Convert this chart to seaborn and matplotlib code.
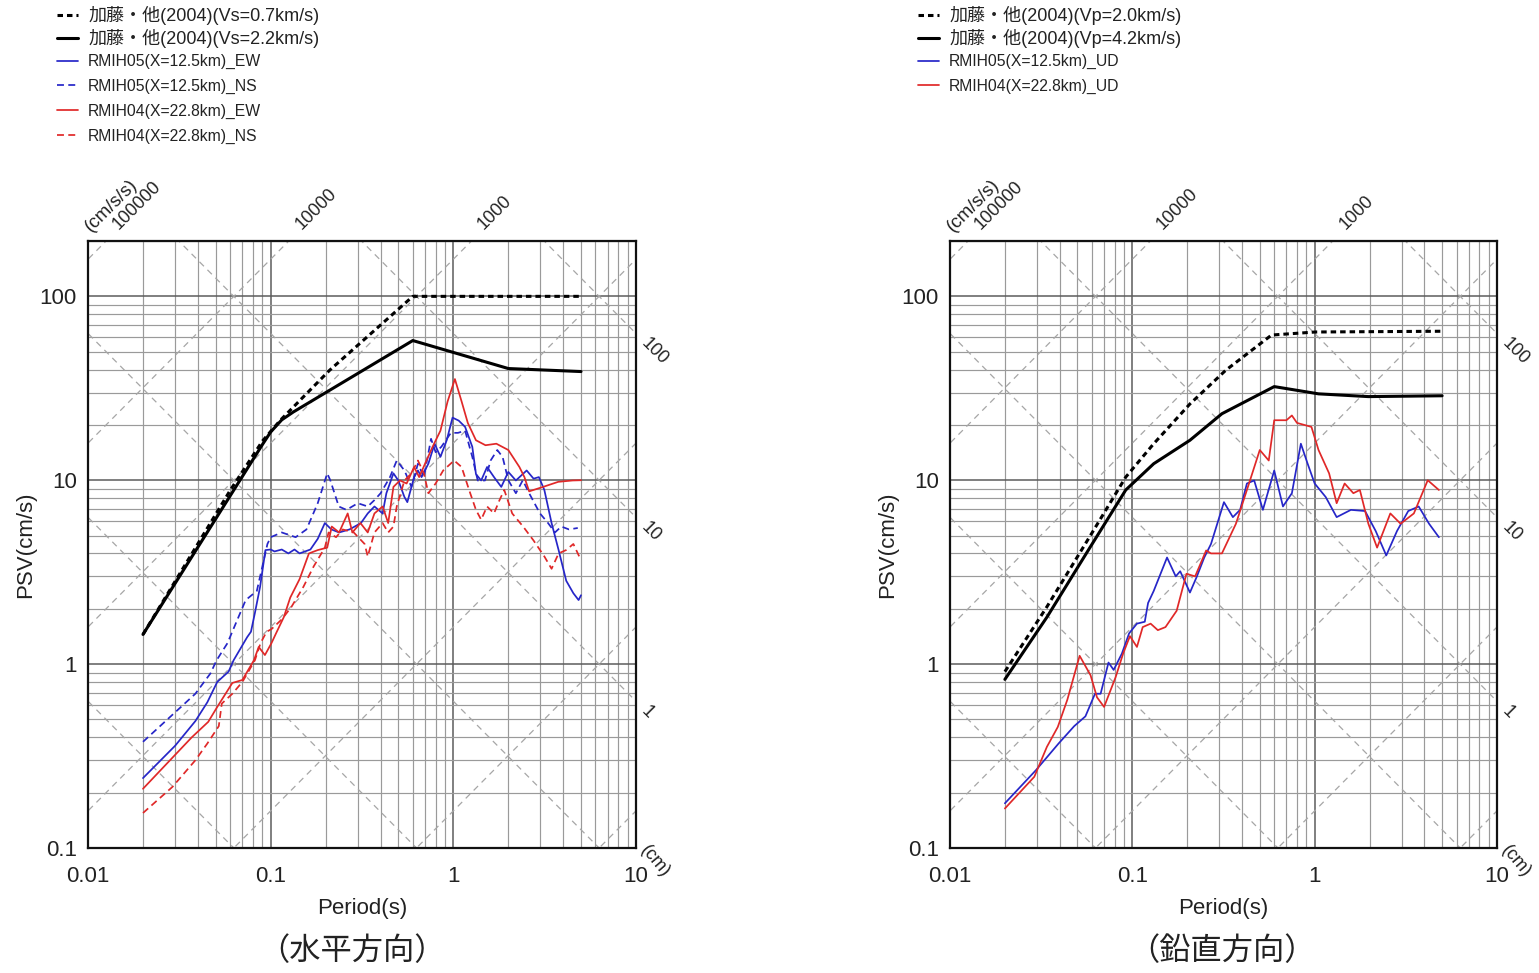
import numpy as np
import seaborn as sns
import matplotlib.pyplot as plt
from matplotlib.ticker import LogLocator, NullFormatter

# --- horizontal (水平方向) ---
kato_vs07_t = [0.02, 0.06, 0.09, 0.113, 0.17, 0.21, 0.6, 5.0]
kato_vs07_psv = [1.45, 8.8, 16.3, 21.2, 32.0, 39.6, 100, 100]

kato_vs22_t = [0.02, 0.09, 0.1, 0.115, 0.133, 0.6, 2.0, 5.0]
kato_vs22_psv = [1.45, 15.6, 18.3, 21.3, 23.5, 57.5, 40.5, 39.0]

rmih05_ew_t = [0.02, 0.03, 0.0387, 0.045, 0.051, 0.0588, 0.0627, 0.0743, 0.078, 0.082,
               0.0875, 0.0936, 0.1, 0.105, 0.115, 0.125, 0.135, 0.144, 0.165, 0.181,
               0.198, 0.215, 0.237, 0.27, 0.312, 0.34, 0.37, 0.41, 0.43, 0.47,
               0.50, 0.54, 0.56, 0.61, 0.64, 0.67, 0.73, 0.79, 0.85, 0.92,
               0.99, 1.07, 1.16, 1.27, 1.33, 1.42, 1.53, 1.67, 1.83, 2.0,
               2.2, 2.52, 2.75, 2.94, 3.15, 3.45, 3.77, 4.15, 4.54, 4.85, 5.0]
rmih05_ew_psv = [0.24, 0.36, 0.49, 0.62, 0.8, 0.91, 1.05, 1.4, 1.5, 1.9,
                 2.63, 4.17, 4.2, 4.1, 4.2, 4.0, 4.2, 4.0, 4.2, 4.8,
                 5.85, 5.4, 5.2, 5.4, 5.85, 6.6, 7.2, 6.6, 8.5, 10.9,
                 9.97, 8.1, 7.6, 10.4, 11.3, 10.4, 12.3, 15.8, 13.4, 16.5,
                 21.9, 21.1, 19.5, 15.2, 10.8, 9.97, 11.8, 10.4, 9.2, 11.1,
                 9.97, 11.3, 10.2, 10.4, 8.85, 5.85, 4.17, 2.84, 2.43, 2.23, 2.37]

rmih05_ns_t = [0.02, 0.0387, 0.0468, 0.0506, 0.058, 0.065, 0.073, 0.084, 0.096, 0.1,
               0.115, 0.137, 0.157, 0.181, 0.204, 0.212, 0.236, 0.26, 0.3, 0.34,
               0.37, 0.40, 0.45, 0.49, 0.54, 0.59, 0.64, 0.69, 0.755, 0.8,
               0.86, 0.97, 1.06, 1.16, 1.27, 1.36, 1.49, 1.6, 1.74, 1.86,
               2.0, 2.2, 2.4, 2.6, 2.98, 3.3, 3.6, 3.9, 4.3, 4.8]
rmih05_ns_psv = [0.378, 0.69, 0.89, 1.05, 1.3, 1.7, 2.23, 2.5, 4.5, 4.9,
                 5.2, 4.9, 5.4, 7.5, 10.9, 10.0, 7.2, 6.9, 7.5, 7.2,
                 7.8, 8.5, 10.4, 12.8, 11.3, 9.2, 12.3, 10.4, 16.8, 14.2,
                 15.2, 18.1, 18.1, 18.6, 13.4, 9.97, 9.97, 12.8, 14.6, 13.4,
                 10.0, 8.5, 10.0, 8.5, 6.6, 5.85, 5.2, 5.6, 5.4, 5.5]

rmih04_ew_t = [0.02, 0.037, 0.0455, 0.051, 0.0617, 0.07, 0.081, 0.086, 0.093, 0.101,
               0.107, 0.118, 0.128, 0.144, 0.162, 0.181, 0.204, 0.216, 0.237, 0.264,
               0.28, 0.31, 0.34, 0.37, 0.41, 0.44, 0.47, 0.51, 0.555, 0.61,
               0.65, 0.7, 0.77, 0.85, 0.93, 1.02, 1.11, 1.2, 1.33, 1.5,
               1.72, 2.0, 2.3, 2.45, 2.6, 3.1, 3.75, 4.5, 5.0]
rmih04_ew_psv = [0.21, 0.40, 0.485, 0.585, 0.79, 0.82, 1.05, 1.24, 1.12, 1.3,
                 1.47, 1.8, 2.3, 2.9, 4.0, 4.17, 4.3, 5.6, 5.2, 6.6,
                 5.2, 5.85, 5.2, 6.6, 7.2, 5.85, 9.2, 9.97, 9.6, 11.8,
                 10.4, 12.3, 15.2, 18.6, 26.8, 35.5, 26.8, 20.5, 16.5, 15.5,
                 15.8, 14.6, 11.8, 10.4, 8.7, 9.2, 9.8, 9.97, 10.0]

rmih04_ns_t = [0.02, 0.029, 0.0387, 0.045, 0.052, 0.054, 0.0617, 0.07, 0.075, 0.082,
               0.088, 0.095, 0.101, 0.115, 0.13, 0.151, 0.172, 0.198, 0.2075, 0.228,
               0.248, 0.285, 0.327, 0.34, 0.37, 0.41, 0.44, 0.47, 0.49, 0.54,
               0.59, 0.64, 0.69, 0.73, 0.8, 0.88, 1.01, 1.11, 1.22, 1.33,
               1.42, 1.53, 1.67, 1.79, 1.9, 2.1, 2.41, 2.75, 3.15, 3.45,
               3.77, 4.14, 4.54, 4.89]
rmih04_ns_psv = [0.155, 0.215, 0.30, 0.37, 0.46, 0.61, 0.69, 0.8, 0.9, 1.05,
                 1.3, 1.5, 1.55, 1.75, 2.05, 2.63, 3.4, 4.3, 5.2, 4.9,
                 5.4, 5.2, 4.5, 3.85, 5.2, 5.85, 5.2, 5.6, 7.2, 9.97,
                 10.9, 12.8, 10.9, 8.5, 9.6, 11.3, 12.8, 11.8, 8.85, 6.9,
                 6.1, 7.2, 6.6, 7.8, 8.85, 6.6, 5.6, 4.7, 3.85, 3.3,
                 4.0, 4.17, 4.5, 3.85]

# --- vertical (鉛直方向) ---
kato_vp20_t = [0.02, 0.034, 0.061, 0.092, 0.131, 0.207, 0.325, 0.58, 1.01, 5.0]
kato_vp20_psv = [0.91, 2.05, 5.3, 10.4, 15.8, 26.0, 39.6, 61.6, 64.0, 64.6]

kato_vp42_t = [0.02, 0.034, 0.0585, 0.092, 0.131, 0.207, 0.31, 0.6, 1.05, 1.97, 5.0]
kato_vp42_psv = [0.826, 1.8, 4.3, 8.85, 12.3, 16.5, 23.0, 32.3, 29.5, 28.5, 28.8]

rmih05_ud_t = [0.02, 0.0296, 0.0394, 0.048, 0.0553, 0.0624, 0.067, 0.074, 0.079, 0.0876,
               0.096, 0.106, 0.117, 0.122, 0.131, 0.155, 0.173, 0.183, 0.207, 0.226,
               0.248, 0.27, 0.318, 0.356, 0.39, 0.425, 0.466, 0.52, 0.6, 0.67,
               0.75, 0.84, 0.915, 1.0, 1.15, 1.32, 1.58, 1.89, 2.16, 2.47,
               2.83, 3.26, 3.72, 4.24, 4.8]
rmih05_ud_psv = [0.175, 0.265, 0.37, 0.46, 0.52, 0.69, 0.69, 1.02, 0.93, 1.14,
                 1.47, 1.66, 1.7, 2.15, 2.5, 3.8, 3.0, 3.2, 2.45, 3.0,
                 3.8, 4.5, 7.6, 6.3, 6.9, 9.6, 9.97, 6.9, 11.3, 7.2,
                 8.5, 15.8, 12.3, 9.6, 8.1, 6.3, 6.9, 6.8, 5.3, 3.9,
                 5.3, 6.8, 7.2, 5.8, 4.9]

rmih04_ud_t = [0.02, 0.029, 0.034, 0.039, 0.044, 0.0514, 0.059, 0.064, 0.07, 0.081,
               0.089, 0.097, 0.106, 0.114, 0.126, 0.138, 0.152, 0.175, 0.198, 0.221,
               0.254, 0.27, 0.31, 0.37, 0.425, 0.5, 0.56, 0.6, 0.7, 0.75,
               0.8, 0.96, 1.05, 1.2, 1.32, 1.46, 1.63, 1.77, 1.97, 2.2,
               2.6, 2.96, 3.5, 4.17, 4.8]
rmih04_ud_psv = [0.164, 0.244, 0.355, 0.455, 0.64, 1.11, 0.87, 0.66, 0.585, 0.85,
                 1.14, 1.42, 1.24, 1.59, 1.66, 1.53, 1.59, 1.95, 3.1, 3.0,
                 4.15, 4.0, 4.0, 5.8, 8.85, 14.6, 12.8, 21.2, 21.2, 22.5,
                 20.5, 19.5, 14.6, 10.9, 7.5, 9.6, 8.5, 8.85, 5.8, 4.3,
                 6.6, 5.8, 6.6, 10.0, 8.85]

# labels
accel_labels = [100000, 10000, 1000]   # cm/s/s, along the top
disp_labels = [100, 10, 1]             # cm, along the right side

BLUE = '#2626c8'
RED = '#e02828'
TXT = '#222222'
W, H = 1539, 973

sns.set_style('white')
plt.rcParams['font.family'] = ['Liberation Sans', 'Noto Sans CJK JP', 'DejaVu Sans']


def draw(ax, t, psv, color, lw, dash=None, label=None, z=3):
    ls = '-' if dash is None else (0, dash)
    sns.lineplot(x=t, y=psv, ax=ax, color=color, linewidth=lw, linestyle=ls,
                 sort=False, estimator=None, legend=False, zorder=z)
    line = ax.lines[-1]
    line.set_label(label)
    return line


def tripartite(ax):
    ax.set_xscale('log')
    ax.set_yscale('log')
    ax.set_xlim(0.01, 10)
    ax.set_ylim(0.1, 200)
    ax.set_xticks([0.01, 0.1, 1, 10])
    ax.set_xticklabels(['0.01', '0.1', '1', '10'])
    ax.set_yticks([0.1, 1, 10, 100])
    ax.set_yticklabels(['0.1', '1', '10', '100'])
    ax.xaxis.set_minor_locator(LogLocator(base=10, subs=np.arange(2, 10)))
    ax.yaxis.set_minor_locator(LogLocator(base=10, subs=np.arange(2, 10)))
    ax.xaxis.set_minor_formatter(NullFormatter())
    ax.yaxis.set_minor_formatter(NullFormatter())
    ax.tick_params(which='both', length=0, labelsize=16, labelcolor=TXT)
    ax.tick_params(axis='x', pad=13)
    ax.tick_params(axis='y', pad=8)
    ax.set_axisbelow(True)
    ax.grid(which='major', color='#5c5c5c', linewidth=1.1, zorder=0)
    ax.grid(which='minor', color='#9a9a9a', linewidth=0.85, zorder=0)
    for s in ax.spines.values():
        s.set_visible(True)
        s.set_color('#111111')
        s.set_linewidth(1.6)

    # diagonal acceleration / displacement lines
    tt = np.array([0.005, 20.0])
    for k in range(-1, 6):
        a = 10.0 ** k
        ax.plot(tt, a * tt / (2 * np.pi), color='#a6a6a6', lw=0.9,
                ls=(0, (5, 4)), zorder=1)
    for k in range(-3, 3):
        d = 10.0 ** k
        ax.plot(tt, 2 * np.pi * d / tt, color='#a6a6a6', lw=0.9,
                ls=(0, (5, 4)), zorder=1)

    top = ax.get_ylim()[1]
    for a in accel_labels:
        ax.annotate(str(a), xy=(top * 2 * np.pi / a, top), xytext=(11, 6),
                    textcoords='offset points', rotation=45, rotation_mode='anchor',
                    ha='left', va='bottom', fontsize=13, color=TXT,
                    annotation_clip=False)
    ax.annotate('(cm/s/s)', xy=(top * 2 * np.pi / accel_labels[0], top), xytext=(-9, 4),
                textcoords='offset points', rotation=45, rotation_mode='anchor',
                ha='left', va='bottom', fontsize=13.5, color=TXT,
                annotation_clip=False)
    for d in disp_labels:
        ax.annotate(str(d), xy=(10, 2 * np.pi * d / 10), xytext=(10, -1),
                    textcoords='offset points', rotation=-45, rotation_mode='anchor',
                    ha='left', va='top', fontsize=13, color=TXT,
                    annotation_clip=False)
    ax.annotate('(cm)', xy=(10, 0.1), xytext=(10, 4), textcoords='offset points',
                rotation=-50, rotation_mode='anchor', ha='left', va='top',
                fontsize=13, color=TXT, annotation_clip=False)

    ax.set_xlabel('Period(s)', fontsize=16, color=TXT)
    ax.set_ylabel('PSV(cm/s)', fontsize=16, color=TXT)
    ax.xaxis.set_label_coords(0.5, -0.083)
    ax.yaxis.set_label_coords(-0.095, 0.5)


fig = plt.figure(figsize=(W / 100, H / 100), dpi=100)
ax1 = fig.add_axes([88 / W, 125 / H, 548 / W, 607 / H])
ax2 = fig.add_axes([950 / W, 125 / H, 547 / W, 607 / H])
tripartite(ax1)
tripartite(ax2)

# horizontal panel
h1 = draw(ax1, kato_vs07_t, kato_vs07_psv, 'black', 2.2, dash=(1.8, 1.3),
          label='加藤・他(2004)(Vs=0.7km/s)', z=4)
h2 = draw(ax1, kato_vs22_t, kato_vs22_psv, 'black', 2.2,
          label='加藤・他(2004)(Vs=2.2km/s)', z=4)
h3 = draw(ax1, rmih05_ew_t, rmih05_ew_psv, BLUE, 1.25, label='RMIH05(X=12.5km)_EW')
h4 = draw(ax1, rmih05_ns_t, rmih05_ns_psv, BLUE, 1.25, dash=(4, 2.5),
          label='RMIH05(X=12.5km)_NS')
h5 = draw(ax1, rmih04_ew_t, rmih04_ew_psv, RED, 1.25, label='RMIH04(X=22.8km)_EW')
h6 = draw(ax1, rmih04_ns_t, rmih04_ns_psv, RED, 1.25, dash=(4, 2.5),
          label='RMIH04(X=22.8km)_NS')

# vertical panel
v1 = draw(ax2, kato_vp20_t, kato_vp20_psv, 'black', 2.2, dash=(1.8, 1.3),
          label='加藤・他(2004)(Vp=2.0km/s)', z=4)
v2 = draw(ax2, kato_vp42_t, kato_vp42_psv, 'black', 2.2,
          label='加藤・他(2004)(Vp=4.2km/s)', z=4)
v3 = draw(ax2, rmih05_ud_t, rmih05_ud_psv, BLUE, 1.25, label='RMIH05(X=12.5km)_UD')
v4 = draw(ax2, rmih04_ud_t, rmih04_ud_psv, RED, 1.25, label='RMIH04(X=22.8km)_UD')

big = dict(loc='upper left', frameon=False, fontsize=13, handlelength=1.17,
           handletextpad=0.55, labelspacing=0.22, borderpad=0, borderaxespad=0,
           labelcolor=TXT)
small = dict(loc='upper left', frameon=False, fontsize=11.3, handlelength=1.34,
             handletextpad=0.64, labelspacing=0.62, borderpad=0, borderaxespad=0,
             labelcolor=TXT)
fig.legend(handles=[h1, h2], bbox_to_anchor=(57 / W, 1 - 6 / H), **big)
fig.legend(handles=[h3, h4, h5, h6], bbox_to_anchor=(57 / W, 1 - 54 / H), **small)
fig.legend(handles=[v1, v2], bbox_to_anchor=(918 / W, 1 - 6 / H), **big)
fig.legend(handles=[v3, v4], bbox_to_anchor=(918 / W, 1 - 54 / H), **small)

fig.text(352 / W, 1 - 951 / H, '（水平方向）', ha='center', va='center', fontsize=22.5,
         family=['Noto Sans CJK JP'], color=TXT)
fig.text(1222 / W, 1 - 951 / H, '（鉛直方向）', ha='center', va='center', fontsize=22.5,
         family=['Noto Sans CJK JP'], color=TXT)

fig.savefig('out.png', dpi=100)
